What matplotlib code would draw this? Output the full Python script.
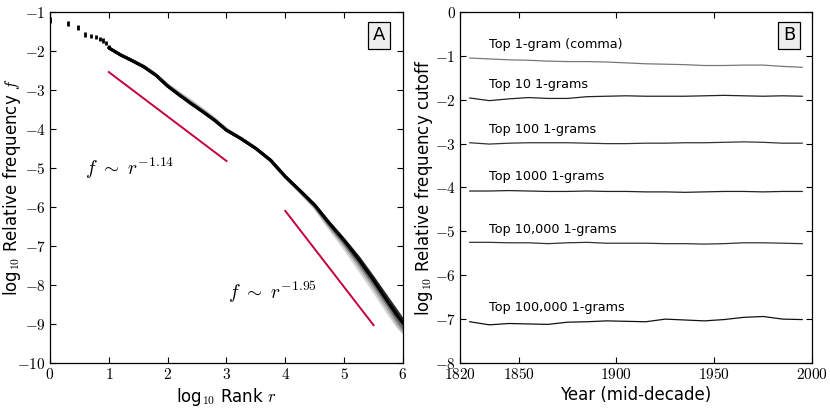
import numpy as np
import matplotlib
matplotlib.use("Agg")
import matplotlib.pyplot as plt
from matplotlib.ticker import FuncFormatter

plt.rcParams['mathtext.fontset'] = 'cm'
plt.rcParams['font.family'] = ['DejaVu Sans']

# panel A: top ranks, spread over years (log10 rank, low, high)
head_lr = [0.0, 0.301, 0.477, 0.602, 0.699, 0.778, 0.845, 0.903, 0.954, 1.0]
head_lo = [-1.28, -1.35, -1.46, -1.65, -1.67, -1.69, -1.74, -1.80, -1.85, -1.93]
head_hi = [-1.12, -1.23, -1.33, -1.52, -1.57, -1.59, -1.63, -1.67, -1.74, -1.85]

# panel A: rank-frequency curves, lightest to darkest
rank_lr = [1.0, 1.2, 1.4, 1.6, 1.8, 2.0, 2.2, 2.4, 2.6, 2.8, 3.0, 3.25, 3.5,
           3.75, 4.0, 4.25, 4.5, 4.75, 5.0, 5.25, 5.5, 5.75, 5.9, 6.0]
freq_light = [-1.92, -2.10, -2.24, -2.39, -2.60, -2.86, -3.08, -3.28, -3.50, -3.73, -4.00, -4.24,
              -4.50, -4.81, -5.24, -5.62, -6.02, -6.55, -7.05, -7.60, -8.15, -8.72, -9.05, -9.22]
freq_mid1 = [-1.92, -2.10, -2.25, -2.40, -2.61, -2.88, -3.10, -3.31, -3.53, -3.76, -4.02, -4.25,
             -4.50, -4.81, -5.23, -5.60, -6.00, -6.50, -6.97, -7.50, -8.05, -8.62, -8.98, -9.18]
freq_mid2 = [-1.92, -2.10, -2.25, -2.41, -2.62, -2.89, -3.12, -3.34, -3.55, -3.77, -4.03, -4.25,
             -4.50, -4.80, -5.22, -5.59, -5.97, -6.46, -6.92, -7.42, -7.96, -8.52, -8.88, -9.10]
freq_dark = [-1.92, -2.10, -2.25, -2.41, -2.62, -2.90, -3.13, -3.35, -3.56, -3.78, -4.03, -4.25,
             -4.50, -4.80, -5.22, -5.58, -5.95, -6.41, -6.84, -7.30, -7.82, -8.36, -8.68, -8.90]
freq_black = [-1.92, -2.10, -2.25, -2.41, -2.62, -2.90, -3.13, -3.35, -3.56, -3.78, -4.03, -4.25,
              -4.50, -4.80, -5.22, -5.58, -5.95, -6.42, -6.86, -7.35, -7.88, -8.45, -8.78, -8.98]
curve_colors = ['#d4d4d4', '#a8a8a8', '#6a6a6a', '#2a2a2a', '#000000']

# power-law guide lines
fit1_x = [1.0, 3.0]
fit1_y = [-2.54, -4.82]
fit2_x = [4.0, 5.5]
fit2_y = [-6.10, -9.03]

# panel B: frequency cutoffs per mid-decade year
years = [1825, 1835, 1845, 1855, 1865, 1875, 1885, 1895, 1905, 1915,
         1925, 1935, 1945, 1955, 1965, 1975, 1985, 1995]
top1 = [-1.05, -1.07, -1.09, -1.10, -1.12, -1.13, -1.13, -1.14, -1.16, -1.18,
        -1.19, -1.20, -1.22, -1.22, -1.21, -1.21, -1.24, -1.26]
top10 = [-1.96, -2.02, -1.98, -1.95, -1.97, -1.97, -1.93, -1.92, -1.91, -1.92,
         -1.92, -1.92, -1.91, -1.90, -1.91, -1.92, -1.91, -1.92]
top100 = [-2.98, -3.01, -2.99, -2.98, -2.98, -2.98, -2.99, -3.00, -3.00, -2.99,
          -2.99, -2.98, -2.98, -2.97, -2.96, -2.97, -2.99, -2.99]
top1000 = [-4.08, -4.08, -4.07, -4.08, -4.09, -4.09, -4.08, -4.09, -4.09, -4.10,
           -4.10, -4.11, -4.10, -4.09, -4.09, -4.10, -4.09, -4.09]
top10000 = [-5.25, -5.25, -5.26, -5.26, -5.28, -5.26, -5.25, -5.27, -5.27, -5.27,
            -5.28, -5.28, -5.29, -5.28, -5.26, -5.26, -5.27, -5.28]
top100000 = [-7.06, -7.13, -7.10, -7.11, -7.12, -7.07, -7.06, -7.04, -7.05, -7.06,
             -7.00, -7.02, -7.04, -7.01, -6.96, -6.94, -7.00, -7.01]
cutoff_series = [top1, top10, top100, top1000, top10000, top100000]
cutoff_labels = ["Top 1-gram (comma)", "Top 10 1-grams", "Top 100 1-grams",
                 "Top 1000 1-grams", "Top 10,000 1-grams", "Top 100,000 1-grams"]
label_y = [-0.75, -1.66, -2.67, -3.76, -4.95, -6.74]
cutoff_colors = ['#777777', '#222222', '#333333', '#222222', '#333333', '#111111']

red = '#c4003a'
mathfmt = FuncFormatter(lambda v, p: r'$%d$' % v)

fig = plt.figure(figsize=(8.3, 4.11), dpi=100)
axA = fig.add_axes([0.0602, 0.1168, 0.4253, 0.854])
axB = fig.add_axes([0.5542, 0.1168, 0.4241, 0.854])

# ---- panel A
for ys, col in zip([freq_light, freq_mid1, freq_mid2, freq_dark, freq_black], curve_colors):
    axA.plot(rank_lr, ys, '-', color=col, lw=2.2, solid_capstyle='round')
axA.vlines(head_lr, head_lo, head_hi, colors='black', lw=2.0)
axA.plot(fit1_x, fit1_y, '-', color=red, lw=1.4)
axA.plot(fit2_x, fit2_y, '-', color=red, lw=1.4)
axA.text(0.6, -5.0, r'$f\ \sim\ r^{-1.14}$', fontsize=14, va='center', ha='left')
axA.text(3.02, -8.2, r'$f\ \sim\ r^{-1.95}$', fontsize=14, va='center', ha='left')
axA.set_xlim(0, 6)
axA.set_ylim(-10, -1)
axA.set_xticks(range(0, 7))
axA.set_yticks(range(-10, 0))
axA.set_xlabel(r'log$_{10}$ Rank $r$', fontsize=12, labelpad=3)
axA.set_ylabel(r'log$_{10}$ Relative frequency $f$', fontsize=12)
axA.yaxis.set_label_coords(-0.077, 0.5)
axA.text(0.932, 0.934, 'A', transform=axA.transAxes, fontsize=13, ha='center', va='center',
         bbox=dict(boxstyle='square,pad=0.25', fc='#eeeeee', ec='black', lw=0.9))

# ---- panel B
for ys, col in zip(cutoff_series, cutoff_colors):
    axB.plot(years, ys, '-', color=col, lw=0.9)
for txt, yy in zip(cutoff_labels, label_y):
    axB.text(1835, yy, txt, fontsize=9.2, va='center', ha='left')
axB.set_xlim(1820, 2000)
axB.set_ylim(-8, 0)
axB.set_xticks([1820, 1850, 1900, 1950, 2000])
axB.set_yticks(range(-8, 1))
axB.set_xlabel('Year (mid-decade)', fontsize=12, labelpad=3)
axB.set_ylabel(r'log$_{10}$ Relative frequency cutoff', fontsize=12)
axB.yaxis.set_label_coords(-0.071, 0.5)
axB.text(0.935, 0.934, 'B', transform=axB.transAxes, fontsize=13, ha='center', va='center',
         bbox=dict(boxstyle='square,pad=0.25', fc='#eeeeee', ec='black', lw=0.9))

for ax in (axA, axB):
    ax.xaxis.set_major_formatter(mathfmt)
    ax.yaxis.set_major_formatter(mathfmt)
    ax.tick_params(direction='in', length=4, width=0.8, top=True, right=True,
                   labelsize=11, pad=3)
    for s in ax.spines.values():
        s.set_linewidth(0.9)

plt.savefig('out.png', dpi=100)
plt.close()
